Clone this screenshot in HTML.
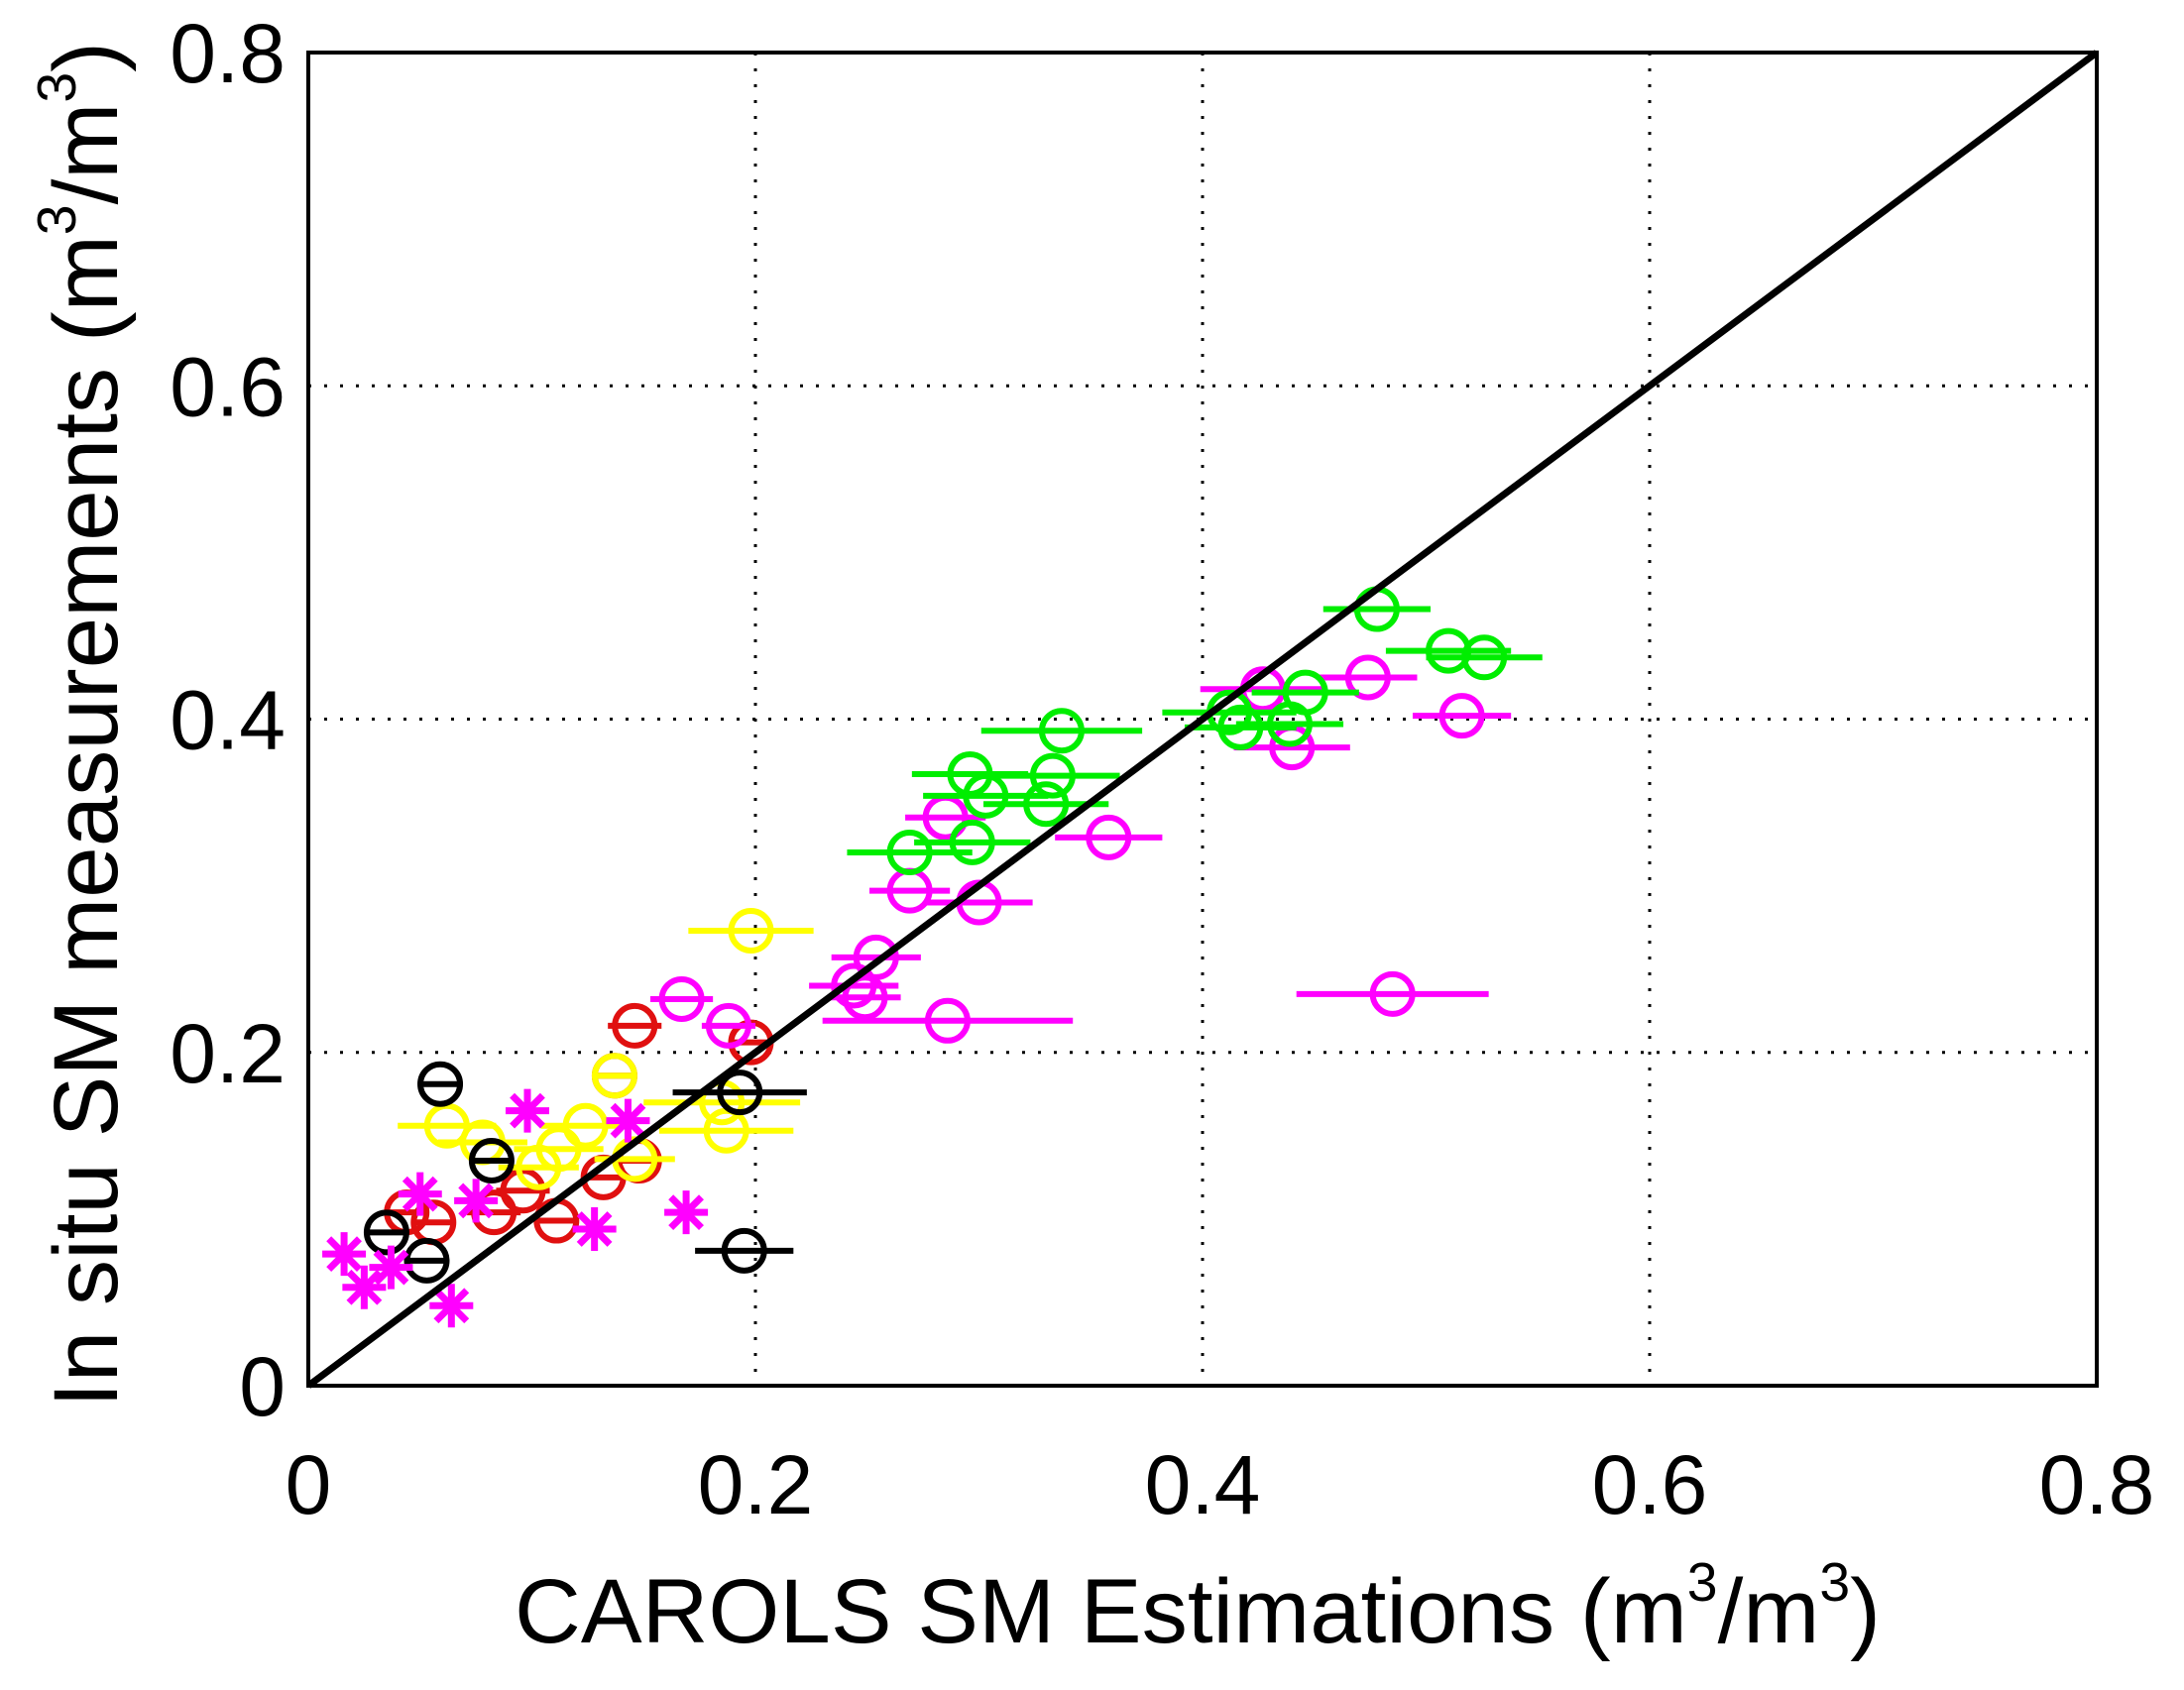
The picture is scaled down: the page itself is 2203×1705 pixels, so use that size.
<!DOCTYPE html>
<html><head><meta charset="utf-8"><style>
html,body{margin:0;padding:0;background:#fff;}
svg{display:block;font-family:"Liberation Sans",Arial,sans-serif;}
</style></head><body>
<svg id="chart" width="2203" height="1705" viewBox="0 0 2203 1705">
<rect x="0" y="0" width="2203" height="1705" fill="#fff"/>
<g id="grid"></g>
<g id="marks"></g>
<g id="axes"></g>
<text x="1208" y="1657" text-anchor="middle" font-size="92" textLength="1378" lengthAdjust="spacingAndGlyphs">CAROLS SM Estimations (m<tspan font-size="55" dy="-42">3</tspan><tspan dy="42">/m</tspan><tspan font-size="55" dy="-42">3</tspan><tspan dy="42">)</tspan></text>
<text transform="translate(118,731) rotate(-90)" x="0" y="0" text-anchor="middle" font-size="92" textLength="1378" lengthAdjust="spacingAndGlyphs">In situ SM measurements (m<tspan font-size="55" dy="-42">3</tspan><tspan dy="42">/m</tspan><tspan font-size="55" dy="-42">3</tspan><tspan dy="42">)</tspan></text>
</svg>
<script>
const xTicks = [0, 0.2, 0.4, 0.6, 0.8];
const yTicks = [0, 0.2, 0.4, 0.6, 0.8];
const xTickLabels = ["0", "0.2", "0.4", "0.6", "0.8"];
const yTickLabels = ["0", "0.2", "0.4", "0.6", "0.8"];
const greenX = [0.478,0.510,0.526,0.446,0.412,0.417,0.439,0.337,0.296,0.333,0.303,0.330,0.297,0.269];
const greenY = [0.466,0.441,0.437,0.416,0.404,0.395,0.397,0.393,0.367,0.366,0.354,0.349,0.326,0.320];
const greenErr = [0.024,0.028,0.026,0.024,0.030,0.025,0.024,0.036,0.026,0.030,0.028,0.028,0.026,0.028];
const magentaX = [0.427,0.474,0.440,0.516,0.358,0.285,0.269,0.300,0.254,0.244,0.249,0.286,0.485,0.167,0.188];
const magentaY = [0.418,0.425,0.383,0.402,0.329,0.341,0.297,0.290,0.257,0.240,0.233,0.219,0.235,0.232,0.216];
const magentaErr = [0.028,0.022,0.026,0.022,0.024,0.018,0.018,0.024,0.020,0.020,0.016,0.056,0.043,0.014,0.012];
const redX = [0.146,0.198,0.137,0.148,0.132,0.096,0.083,0.111,0.044,0.056];
const redY = [0.216,0.206,0.186,0.135,0.125,0.117,0.104,0.099,0.104,0.098];
const redErr = [0.012,0.010,0.010,0.010,0.010,0.012,0.012,0.010,0.010,0.010];
const yellowX = [0.198,0.137,0.185,0.187,0.062,0.078,0.112,0.124,0.146,0.103];
const yellowY = [0.273,0.186,0.170,0.153,0.156,0.146,0.142,0.156,0.136,0.131];
const yellowErr = [0.028,0.010,0.035,0.030,0.022,0.020,0.020,0.020,0.018,0.018];
const blackX = [0.059,0.082,0.195,0.193,0.053,0.035];
const blackY = [0.181,0.135,0.081,0.176,0.075,0.092];
const blackErr = [0.008,0.008,0.022,0.030,0.008,0.008];
const starX = [0.098,0.143,0.169,0.128,0.064,0.016,0.025,0.050,0.075,0.037];
const starY = [0.165,0.159,0.104,0.094,0.048,0.079,0.059,0.115,0.111,0.071];

const L=311, R=2115, T=53, B=1398;
function sx(v){return L + v/0.8*(R-L);}
function sy(v){return B - v/0.8*(B-T);}
const NS="http://www.w3.org/2000/svg";
function mk(tag, attrs, parent){const e=document.createElementNS(NS,tag);for(const k in attrs)e.setAttribute(k,attrs[k]);parent.appendChild(e);return e;}
const grid=document.getElementById('grid'), marks=document.getElementById('marks'), axes=document.getElementById('axes');

xTicks.forEach((v,i)=>{
  if(v>0&&v<0.8){const g=mk('line',{x1:sx(v),x2:sx(v),y1:T,y2:B,stroke:'#000','stroke-width':3,'stroke-dasharray':'3 13'},grid);
  
  }
  const t=mk('text',{x:sx(v),y:1527,'text-anchor':'middle','font-size':84},axes);t.textContent=xTickLabels[i];
  
  
});
yTicks.forEach((v,i)=>{
  if(v>0&&v<0.8){const g=mk('line',{x1:L,x2:R,y1:sy(v),y2:sy(v),stroke:'#000','stroke-width':3,'stroke-dasharray':'3 13'},grid);
  
  }
  const t=mk('text',{x:288,y:sy(v)+30,'text-anchor':'end','font-size':84},axes);t.textContent=yTickLabels[i];
  
  
});

function series(xs,ys,errs,color,name){
  xs.forEach((x,i)=>{
    const g=mk('g',{},marks);
    
    
    mk('line',{x1:sx(x-errs[i]),x2:sx(x+errs[i]),y1:sy(ys[i]),y2:sy(ys[i]),stroke:color,'stroke-width':6},g);
    mk('circle',{cx:sx(x),cy:sy(ys[i]),r:20,fill:'none',stroke:color,'stroke-width':6},g);
  });
}
series(redX,redY,redErr,'#e01010','red');
series(yellowX,yellowY,yellowErr,'#ffff00','yellow');
series(blackX,blackY,blackErr,'#000000','black');
series(magentaX,magentaY,magentaErr,'#ff00ff','magenta');
series(greenX,greenY,greenErr,'#00ee00','green');
starX.forEach((x,i)=>{
  const g=mk('g',{stroke:'#ff00ff','stroke-width':7},marks);
  
  
  const cx=sx(x), cy=sy(starY[i]), r=22;
  mk('line',{x1:cx-r,x2:cx+r,y1:cy,y2:cy},g);
  mk('line',{x1:cx,x2:cx,y1:cy-r,y2:cy+r},g);
  mk('line',{x1:cx-r*0.7,x2:cx+r*0.7,y1:cy-r*0.7,y2:cy+r*0.7},g);
  mk('line',{x1:cx-r*0.7,x2:cx+r*0.7,y1:cy+r*0.7,y2:cy-r*0.7},g);
});
const d=mk('line',{x1:sx(0),y1:sy(0),x2:sx(0.8),y2:sy(0.8),stroke:'#000','stroke-width':7},marks);


const f=mk('rect',{x:L,y:T,width:R-L,height:B-T,fill:'none',stroke:'#000','stroke-width':4},axes);


</script>
</body></html>
